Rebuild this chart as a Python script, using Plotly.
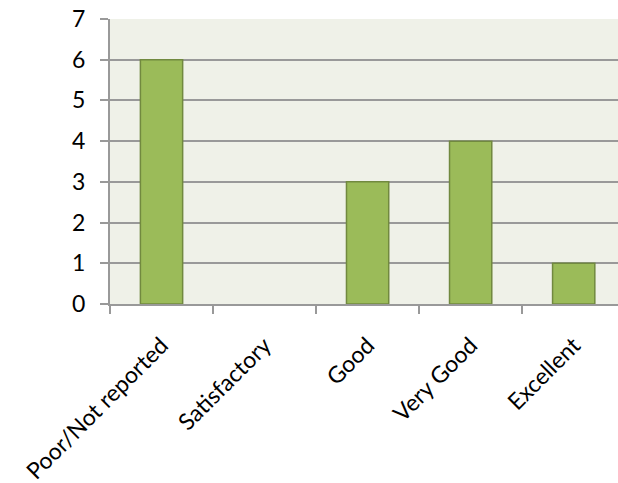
import plotly.graph_objects as go

categories = ["Poor/Not reported", "Satisfactory", "Good", "Very Good", "Excellent"]
values = [6, 0, 3, 4, 1]
y_ticks = [0, 1, 2, 3, 4, 5, 6, 7]

fig = go.Figure(go.Bar(
    x=categories, y=values,
    marker=dict(color="#9BBB59",
                line=dict(color="#71893F", width=[1.5 if v else 0 for v in values])),
))

font = dict(family="Lato, Open Sans, sans-serif", size=23, color="#000000")
fig.update_layout(
    width=618, height=483,
    margin=dict(l=110, r=0, t=19, b=179),
    paper_bgcolor="white", plot_bgcolor="#EFF1E8",
    bargap=0.59, showlegend=False, font=font,
)
fig.update_xaxes(
    type="category", range=[-0.5, 4.43], tickangle=-45,
    tickson="boundaries", ticks="outside", ticklen=8, tickwidth=2, tickcolor="#999999",
    showline=True, linecolor="#999999", linewidth=2, showgrid=False,
    tickfont=dict(size=23), ticklabelstandoff=17,
)
fig.update_yaxes(
    range=[0, 7], tickvals=y_ticks, ticks="outside", ticklen=8, tickwidth=2,
    tickcolor="#999999", showline=True, linecolor="#999999", linewidth=2,
    showgrid=True, gridcolor="#999999", gridwidth=2, zeroline=False,
    ticklabelstandoff=10, tickfont=dict(size=23),
)
fig.write_html("out.html")
